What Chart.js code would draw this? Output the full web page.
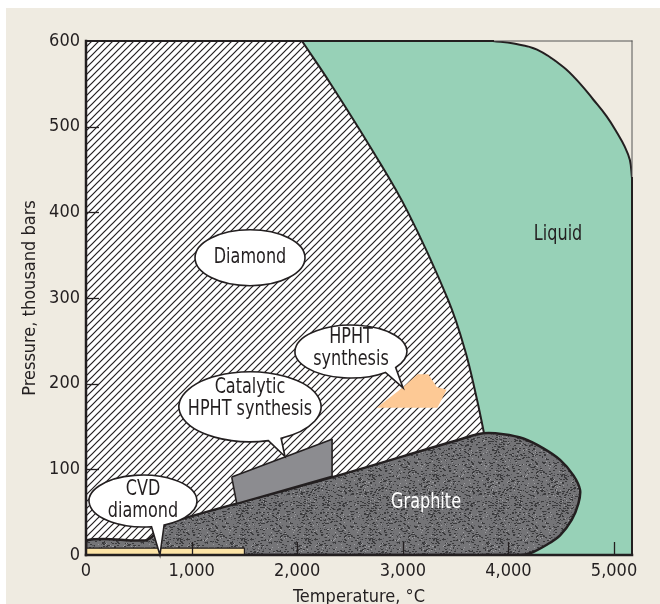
<!DOCTYPE html>
<html>
<head>
<meta charset="utf-8">
<script src="https://cdn.jsdelivr.net/npm/chart.js@4.4.0/dist/chart.umd.min.js"></script>
<style>
  html, body { margin: 0; padding: 0; background: #fff; }
  #wrap { width: 660px; height: 604px; }
</style>
</head>
<body>
<div id="wrap"><canvas id="phaseChart" width="660" height="604"></canvas></div>
<script>
// axis ranges and ticks
const tempRange = [0, 5170];
const pressureRange = [0, 600];
const tempTicks = [0, 1000, 2000, 3000, 4000, 5000];
const tempTickLabels = ['0', '1,000', '2,000', '3,000', '4,000', '5,000'];
const pressureTicks = [0, 100, 200, 300, 400, 500, 600];

// phase regions, [temperature °C, pressure thousand bars]
const diamondLiquidLine = [[2045, 600], [2311, 551], [2708, 473], [3049, 400], [3428, 298], [3589, 239], [3703, 181], [3769, 142]];
const liquidCorner = [[3854, 600], [4050, 597], [4271, 590], [4517, 570], [4680, 550], [4801, 532], [4930, 512], [5028, 493], [5100, 477], [5150, 461], [5170, 440]];
const graphiteOutline = [[0, 0], [0, 17], [560, 17], [610, 20], [653, 25], [700, 30], [770, 37], [2311, 90], [3570, 136], [3762, 142], [3952, 141], [4141, 136], [4331, 124.5], [4489, 111], [4615, 93], [4678, 76], [4662, 60], [4599, 41], [4489, 23], [4363, 12], [4205, 2], [4110, 0], [0, 0]];
const catalyticBox = [[1380, 91], [2330, 135], [2330, 92], [1427, 60], [1380, 91]];
const hphtZone = [[2752, 172], [3005, 196], [3138, 211], [3242, 211], [3321, 196], [3415, 193], [3327, 172], [2752, 172]];
const cvdStrip = [[0, 0], [1500, 0], [1500, 8], [0, 8], [0, 0]];

const ink = '#231f20';
const FONT = "'DejaVu Sans Condensed', 'Liberation Sans', sans-serif";
const SQUEEZE = 0.85; // the original lettering is a narrow face

// bubbles and plain labels (centre in data units, radii in px)
const callouts = [
    { lines: ['Diamond'], at: [1553, 347], rx: 55, ry: 28 },
    { lines: ['CVD', 'diamond'], at: [540, 63], rx: 54, ry: 26, tail: [67, 81], tip: [700, 0] },
    { lines: ['Catalytic', 'HPHT synthesis'], at: [1553, 173], textAt: [1553, 183], rx: 71, ry: 35, tail: [64, 75], tip: [1884, 115] },
    { lines: ['HPHT', 'synthesis'], at: [2509, 237.5], textAt: [2509, 240.5], rx: 56, ry: 26.5, tail: [37, 52], tip: [3002, 195] }
];
const plainLabels = [
    { text: 'Liquid', at: [4470, 374], color: ink },
    { text: 'Graphite', at: [3220, 61], color: '#ffffff' }
];

const toPts = arr => arr.map(([x, y]) => ({ x, y }));

function makeHatch() {
    const c = document.createElement('canvas');
    c.width = 7; c.height = 7;
    const g = c.getContext('2d');
    g.fillStyle = '#fff';
    g.fillRect(0, 0, 7, 7);
    g.strokeStyle = ink;
    g.lineWidth = 1.2;
    g.beginPath();
    [-7, 0, 7].forEach(o => { g.moveTo(o - 1, 8); g.lineTo(o + 8, -1); });
    g.stroke();
    return g.createPattern(c, 'repeat');
}

function makeSpeckle() {
    const size = 64;
    const c = document.createElement('canvas');
    c.width = size; c.height = size;
    const g = c.getContext('2d');
    g.fillStyle = '#747477';
    g.fillRect(0, 0, size, size);
    // fixed-seed speckles so the texture is the same every time
    let s = 12345;
    const next = () => { s = (s * 1103515245 + 12345) % 2147483648; return s / 2147483648; };
    for (let i = 0; i < 850; i++) {
        const px = Math.floor(next() * size), py = Math.floor(next() * size);
        const r = next();
        g.fillStyle = r < 0.55 ? '#3b3b3d' : (r < 0.85 ? '#58585c' : '#9c9c9f');
        g.fillRect(px, py, r < 0.4 ? 2 : 1, 1);
    }
    return g.createPattern(c, 'repeat');
}

const liquidShape = [...diamondLiquidLine, [3790, 0], [tempRange[1], 0], ...[...liquidCorner].reverse(), diamondLiquidLine[0]];
const cornerShape = [...liquidCorner, [tempRange[1], pressureRange[1]], liquidCorner[0]];
const hatchShape = [[0, 0], [tempRange[1], 0], [tempRange[1], pressureRange[1]], [0, pressureRange[1]], [0, 0]];

function region(label, pts, fillStyle, borderWidth, tension) {
    return {
        label: label,
        data: toPts(pts),
        showLine: true,
        fill: 'shape',
        backgroundColor: fillStyle,
        borderColor: ink,
        borderWidth: borderWidth,
        borderJoinStyle: 'round',
        pointRadius: 0,
        tension: tension || 0
    };
}

function boundary(label, pts) {
    return {
        label: label,
        data: toPts(pts),
        showLine: true,
        fill: false,
        borderColor: ink,
        borderWidth: 2,
        pointRadius: 0,
        tension: 0.4
    };
}

// first dataset is drawn on top
const datasets = [
    region('HPHT synthesis', hphtZone, '#fdc995', 0),
    region('CVD', cvdStrip, '#fde4a6', 1.2),
    region('Catalytic HPHT', catalyticBox, '#8c8c90', 1.6),
    region('Graphite', graphiteOutline, makeSpeckle(), 2.5, 0.35),
    boundary('Diamond/liquid', diamondLiquidLine),
    boundary('Liquid edge', liquidCorner),
    region('Corner', cornerShape, '#efebe1', 0),
    region('Liquid', liquidShape, '#97d1b7', 0),
    region('Diamond', hatchShape, makeHatch(), 0)
];

const backgroundPlugin = {
    id: 'pageBg',
    beforeDraw(chart) {
        const ctx = chart.ctx;
        ctx.save();
        ctx.fillStyle = '#ffffff';
        ctx.fillRect(0, 0, chart.width, chart.height);
        ctx.fillStyle = '#efebe1';
        ctx.fillRect(6, 8, chart.width - 6, chart.height - 8);
        ctx.restore();
    }
};

const framePlugin = {
    id: 'frame',
    afterDatasetsDraw(chart) {
        const { ctx, chartArea: a, scales: { x, y } } = chart;
        const cornerX = x.getPixelForValue(liquidCorner[0][0]);
        const cornerY = y.getPixelForValue(liquidCorner[liquidCorner.length - 1][1]);
        ctx.save();
        ctx.lineCap = 'square';
        const seg = (w, col, x1, y1, x2, y2) => {
            ctx.lineWidth = w; ctx.strokeStyle = col;
            ctx.beginPath(); ctx.moveTo(x1, y1); ctx.lineTo(x2, y2); ctx.stroke();
        };
        seg(1, '#555', cornerX, a.top, a.right, a.top);
        seg(1, '#555', a.right, a.top, a.right, cornerY);
        seg(2, ink, a.right, cornerY, a.right, a.bottom);
        seg(2, ink, a.left, a.top, cornerX, a.top);
        seg(2.5, ink, a.left, a.top, a.left, a.bottom);
        seg(2.5, ink, a.left, a.bottom, a.right, a.bottom);
        // inward tick marks
        ctx.lineCap = 'butt';
        tempTicks.slice(1).forEach(v => {
            const px = Math.round(x.getPixelForValue(v)) + 0.5;
            seg(1.3, ink, px, a.bottom, px, a.bottom - 13);
        });
        pressureTicks.slice(1, -1).forEach(v => {
            const py = Math.round(y.getPixelForValue(v)) + 0.5;
            seg(1.3, ink, a.left, py, a.left + 13, py);
        });
        ctx.restore();
    }
};

function squeezedText(ctx, text, px, py) {
    ctx.save();
    ctx.translate(px, py);
    ctx.scale(SQUEEZE, 1);
    ctx.fillText(text, 0, 0);
    ctx.restore();
}

const calloutPlugin = {
    id: 'callouts',
    afterDatasetsDraw(chart) {
        const { ctx, scales: { x, y } } = chart;
        ctx.save();
        ctx.font = `21px ${FONT}`;
        ctx.textAlign = 'center';
        ctx.textBaseline = 'middle';
        callouts.forEach(c => {
            const cx = x.getPixelForValue(c.at[0]);
            const cy = y.getPixelForValue(c.at[1]);
            ctx.beginPath();
            if (c.tail) {
                const a1 = c.tail[0] * Math.PI / 180;
                const a2 = c.tail[1] * Math.PI / 180;
                ctx.ellipse(cx, cy, c.rx, c.ry, 0, a2, a1 + 2 * Math.PI);
                ctx.lineTo(x.getPixelForValue(c.tip[0]), y.getPixelForValue(c.tip[1]));
                ctx.closePath();
            } else {
                ctx.ellipse(cx, cy, c.rx, c.ry, 0, 0, 2 * Math.PI);
            }
            ctx.fillStyle = '#ffffff';
            ctx.fill();
            ctx.lineWidth = 1.6;
            ctx.strokeStyle = ink;
            ctx.stroke();

            const t = c.textAt || c.at;
            const tx = x.getPixelForValue(t[0]);
            const ty = y.getPixelForValue(t[1]);
            ctx.fillStyle = ink;
            const lh = 22;
            c.lines.forEach((line, i) => {
                squeezedText(ctx, line, tx, ty + (i - (c.lines.length - 1) / 2) * lh);
            });
        });
        plainLabels.forEach(l => {
            ctx.fillStyle = l.color;
            squeezedText(ctx, l.text, x.getPixelForValue(l.at[0]), y.getPixelForValue(l.at[1]));
        });
        ctx.restore();
    }
};

const ctx = document.getElementById('phaseChart').getContext('2d');
new Chart(ctx, {
    type: 'scatter',
    data: { datasets: datasets },
    options: {
        responsive: false,
        animation: false,
        layout: { padding: { top: 41, right: 28, left: 0, bottom: 0 } },
        plugins: {
            legend: { display: false },
            tooltip: { enabled: false }
        },
        scales: {
            x: {
                type: 'linear',
                min: tempRange[0],
                max: tempRange[1],
                afterBuildTicks: s => { s.ticks = tempTicks.map(v => ({ value: v })); },
                afterFit: s => { s.height = 49; },
                grid: { display: false, drawTicks: false },
                border: { display: false },
                ticks: {
                    padding: 6,
                    color: ink,
                    font: { family: FONT, size: 18 },
                    callback: v => tempTickLabels[tempTicks.indexOf(v)]
                },
                title: {
                    display: true,
                    text: 'Temperature, °C',
                    color: ink,
                    font: { family: FONT, size: 18 },
                    padding: { top: 0, bottom: -4 }
                }
            },
            y: {
                type: 'linear',
                min: pressureRange[0],
                max: pressureRange[1],
                afterBuildTicks: s => { s.ticks = pressureTicks.map(v => ({ value: v })); },
                afterFit: s => { s.width = 86; },
                grid: { display: false, drawTicks: false },
                border: { display: false },
                ticks: {
                    padding: 6,
                    color: ink,
                    font: { family: FONT, size: 18 }
                },
                title: {
                    display: true,
                    text: 'Pressure, thousand bars',
                    color: ink,
                    font: { family: FONT, size: 18 },
                    padding: { top: 20, bottom: 0 }
                }
            }
        }
    },
    plugins: [backgroundPlugin, framePlugin, calloutPlugin]
});
</script>
</body>
</html>
